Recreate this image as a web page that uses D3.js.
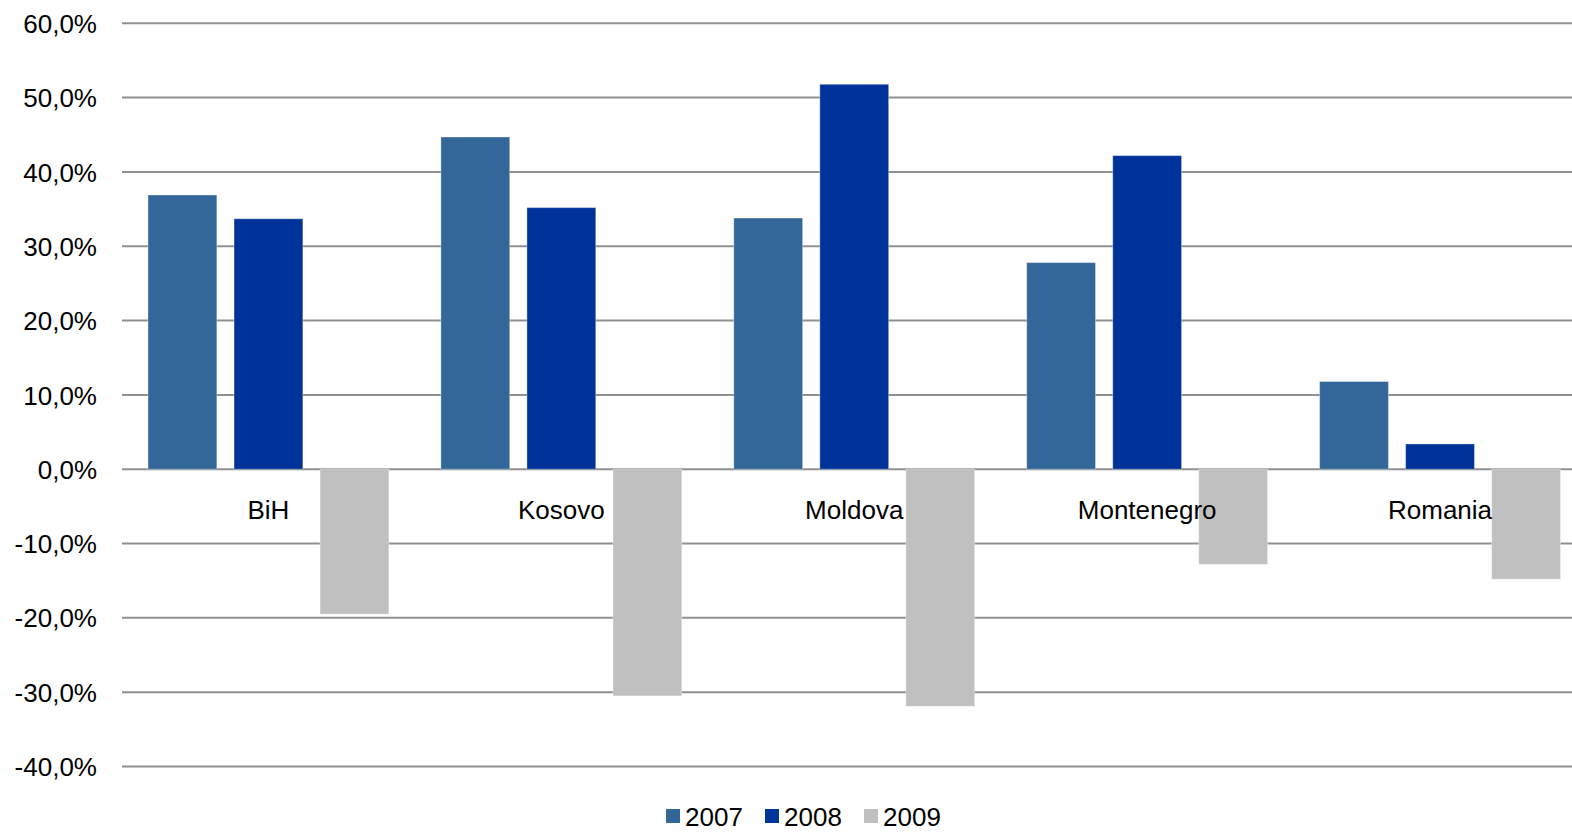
<!DOCTYPE html>
<html>
<head>
<meta charset="utf-8">
<script src="https://cdn.jsdelivr.net/npm/d3@7"></script>
<style>
  html, body { margin: 0; padding: 0; background: #fff; overflow: hidden; }
  svg { display: block; }
  text { font-family: "Liberation Sans", Arial, sans-serif; fill: #000; }
</style>
</head>
<body>
<svg id="chart" width="1572" height="832"></svg>
<script>
// Categories, series and tick values
const categories = ["BiH", "Kosovo", "Moldova", "Montenegro", "Romania"];
const years = ["2007", "2008", "2009"];
const values2007 = [36.9, 44.7, 33.8, 27.8, 11.8];
const values2008 = [33.7, 35.2, 51.8, 42.2, 3.4];
const values2009 = [-19.5, -30.5, -31.9, -12.8, -14.8];
const yTicks = [60, 50, 40, 30, 20, 10, 0, -10, -20, -30, -40];
const colors = ["#336699", "#003399", "#C0C0C0"];

const seriesValues = [values2007, values2008, values2009];

const svg = d3.select("#chart");

// Plot geometry
const plotLeft = 122, bandW = 292.9;
const plotTop = 23.3, plotBottom = 766.5;

const x0 = d3.scaleBand().domain(categories)
  .range([plotLeft, plotLeft + bandW * categories.length]).padding(0);
const x1 = d3.scaleBand().domain(years)
  .range([26, bandW - 26]).paddingInner(0.2).paddingOuter(0);
const y = d3.scaleLinear().domain([-40, 60]).range([plotBottom, plotTop]);
const color = d3.scaleOrdinal().domain(years).range(colors);

const fmt = v => d3.format(".1f")(v).replace(".", ",").replace("−", "-") + "%";

// Horizontal gridlines
svg.append("g").selectAll("line").data(yTicks).join("line")
  .attr("x1", plotLeft).attr("x2", 1572)
  .attr("y1", d => y(d)).attr("y2", d => y(d))
  .attr("stroke", "#909090").attr("stroke-width", 2);

// Value axis labels
const yAxis = d3.axisLeft(y).tickValues(yTicks).tickFormat(fmt).tickSize(0).tickPadding(0);
const yg = svg.append("g").attr("transform", "translate(97,0)").call(yAxis);
yg.select(".domain").remove();
yg.selectAll("text")
  .attr("font-family", "'Liberation Sans', Arial, sans-serif")
  .attr("font-size", 26).attr("fill", "#000").attr("dy", "0.35em");

// Bars
const rows = categories.map((c, i) => ({
  cat: c,
  bars: years.map((yr, j) => ({ year: yr, value: seriesValues[j][i] }))
}));

const groups = svg.append("g").selectAll("g").data(rows).join("g")
  .attr("transform", d => `translate(${x0(d.cat)},0)`);

groups.selectAll("rect").data(d => d.bars).join("rect")
  .attr("x", d => x1(d.year))
  .attr("width", x1.bandwidth())
  .attr("y", d => y(Math.max(0, d.value)))
  .attr("height", d => Math.abs(y(d.value) - y(0)))
  .attr("fill", d => color(d.year))
  .attr("stroke", "rgba(255,255,255,0.35)")
  .attr("stroke-width", 1);

// Category labels
svg.append("g").selectAll("text").data(categories).join("text")
  .attr("x", d => x0(d) + x0.bandwidth() / 2)
  .attr("y", y(0) + 50)
  .attr("text-anchor", "middle")
  .attr("font-size", 26)
  .text(d => d);

// Legend
const legendX = [666, 765, 864];
const legend = svg.append("g").selectAll("g").data(years).join("g")
  .attr("transform", (d, i) => `translate(${legendX[i]},809)`);
legend.append("rect").attr("width", 14).attr("height", 14)
  .attr("fill", d => color(d));
legend.append("text").attr("x", 19).attr("y", 17)
  .attr("font-size", 26).text(d => d);
</script>
</body>
</html>
